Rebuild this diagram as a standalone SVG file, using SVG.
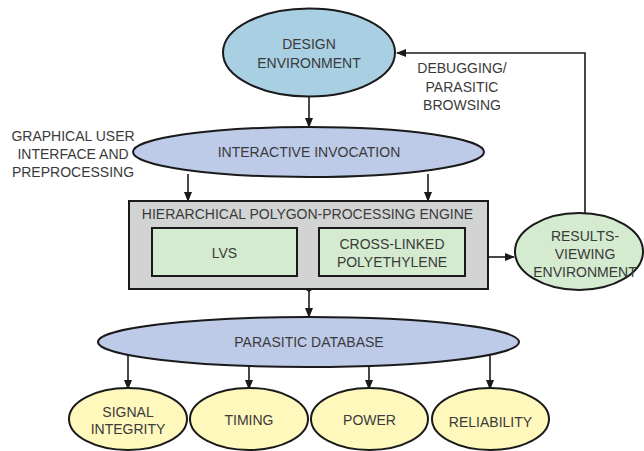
<svg xmlns="http://www.w3.org/2000/svg" width="644" height="451" viewBox="0 0 644 451">
<defs>
<marker id="arr" markerWidth="10" markerHeight="8" refX="9" refY="4" orient="auto" markerUnits="userSpaceOnUse">
<path d="M0,0 L10,4 L0,8 Z" fill="#1a1a1a"/>
</marker>
<style>
.t{font-family:"Liberation Sans",Arial,sans-serif;font-size:14px;fill:#3a3a3a;text-anchor:middle}
.n{stroke:#1a1a1a;stroke-width:2}
.c{fill:none;stroke:#1a1a1a;stroke-width:1.6}
.ca{fill:none;stroke:#1a1a1a;stroke-width:1.6;marker-end:url(#arr)}
</style>
</defs>
<rect width="644" height="451" fill="#ffffff"/>
<g id="connectors">
<line class="ca" x1="309" y1="97" x2="309" y2="127"/>
<line class="ca" x1="188" y1="174" x2="188" y2="201"/>
<line class="ca" x1="428" y1="174" x2="428" y2="201"/>
<polyline class="c" points="287,276 309,291 331,276"/>
<line class="ca" x1="309" y1="291" x2="309" y2="317"/>
<line class="ca" x1="488" y1="257" x2="514" y2="257"/>
<polyline class="ca" points="585,213 585,53 397,53"/>
<line class="ca" x1="128" y1="355" x2="128" y2="389"/>
<line class="ca" x1="249" y1="366" x2="249" y2="389"/>
<line class="ca" x1="369" y1="366" x2="369" y2="389"/>
<line class="ca" x1="490" y1="355" x2="490" y2="389"/>
</g>
<g id="design-environment">
<ellipse class="n" cx="309" cy="52.5" rx="86" ry="44" fill="#a9cfe3"/>
<text class="t" x="309" y="49">DESIGN</text>
<text class="t" x="309" y="67.5">ENVIRONMENT</text>
</g>
<g id="debugging-label">
<text class="t" x="462" y="73">DEBUGGING/</text>
<text class="t" x="462" y="91.5">PARASITIC</text>
<text class="t" x="462" y="109.5">BROWSING</text>
</g>
<g id="gui-label">
<text class="t" x="73" y="141">GRAPHICAL USER</text>
<text class="t" x="73" y="159">INTERFACE AND</text>
<text class="t" x="73" y="177">PREPROCESSING</text>
</g>
<g id="interactive-invocation">
<ellipse class="n" cx="308.5" cy="152" rx="175.5" ry="25" fill="#bdcbe9"/>
<text class="t" x="309" y="157">INTERACTIVE INVOCATION</text>
</g>
<g id="polygon-engine">
<rect class="n" x="129" y="201" width="359" height="88" fill="#d2d4d4"/>
<text class="t" x="307.5" y="219">HIERARCHICAL POLYGON-PROCESSING ENGINE</text>
</g>
<g id="lvs">
<rect class="n" x="152" y="228" width="145" height="48" fill="#d4ebcf"/>
<text class="t" x="224.5" y="258">LVS</text>
</g>
<g id="cross-linked">
<rect class="n" x="319" y="228" width="146" height="48" fill="#d4ebcf"/>
<text class="t" x="392" y="249">CROSS-LINKED</text>
<text class="t" x="392" y="267">POLYETHYLENE</text>
</g>
<g id="results-viewing">
<ellipse class="n" cx="579" cy="251.5" rx="64" ry="38.5" fill="#d4ebcf"/>
<text class="t" x="585" y="241">RESULTS-</text>
<text class="t" x="585" y="259">VIEWING</text>
<text class="t" x="585" y="277">ENVIRONMENT</text>
</g>
<g id="parasitic-database">
<ellipse class="n" cx="308.5" cy="342" rx="210.5" ry="25" fill="#bdcbe9"/>
<text class="t" x="309" y="347">PARASITIC DATABASE</text>
</g>
<g id="signal-integrity">
<ellipse class="n" cx="128" cy="419" rx="59" ry="31" fill="#fef8bd"/>
<text class="t" x="128" y="416.5">SIGNAL</text>
<text class="t" x="128" y="434">INTEGRITY</text>
</g>
<g id="timing">
<ellipse class="n" cx="249" cy="419" rx="59" ry="31" fill="#fef8bd"/>
<text class="t" x="249" y="425">TIMING</text>
</g>
<g id="power">
<ellipse class="n" cx="369.5" cy="419" rx="58.5" ry="31" fill="#fef8bd"/>
<text class="t" x="369.5" y="425">POWER</text>
</g>
<g id="reliability">
<ellipse class="n" cx="490.5" cy="419" rx="58.5" ry="31" fill="#fef8bd"/>
<text class="t" x="490.5" y="427">RELIABILITY</text>
</g>
</svg>
